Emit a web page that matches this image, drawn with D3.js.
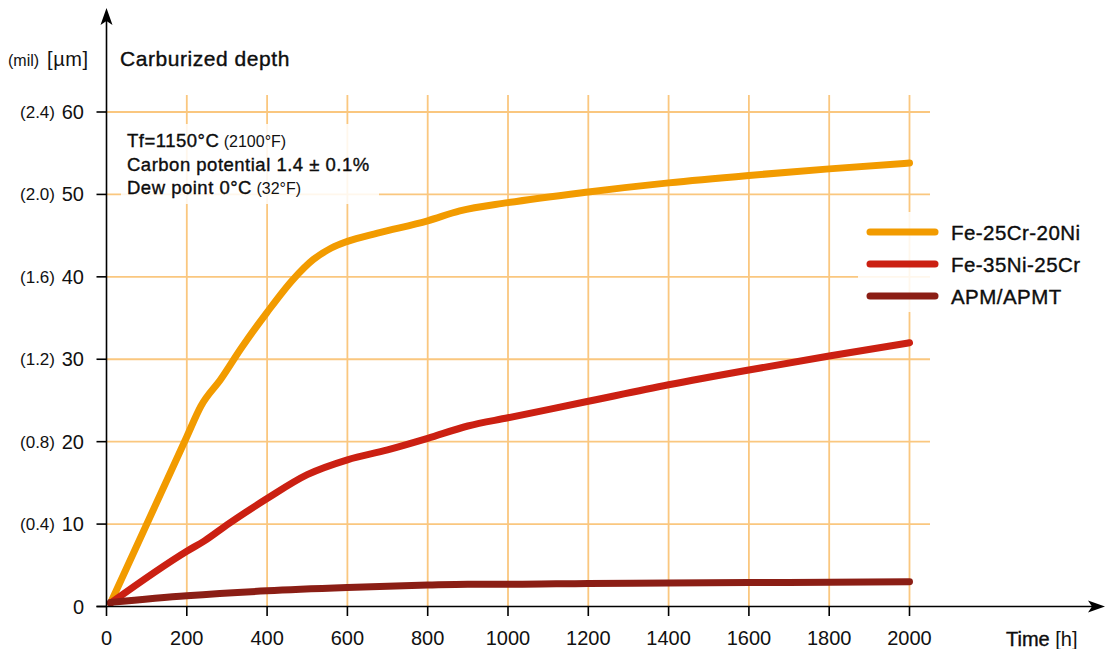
<!DOCTYPE html>
<html><head><meta charset="utf-8">
<script src="https://cdn.jsdelivr.net/npm/d3@7"></script>
<style>
body{margin:0;background:#fff;}
svg{display:block;font-family:"Liberation Sans",Arial,Helvetica,sans-serif;}
.med{stroke:currentColor;stroke-width:0.35px;}
</style></head>
<body><svg id="c" width="1114" height="649"></svg>
<script>
// ---- data ----
const xTicks = [0,200,400,600,800,1000,1200,1400,1600,1800,2000];
const yTicks = [0,10,20,30,40,50,60];
const yMilLabels = ["", "(0.4)", "(0.8)", "(1.2)", "(1.6)", "(2.0)", "(2.4)"];
const seriesNames = ["Fe-25Cr-20Ni","Fe-35Ni-25Cr","APM/APMT"];
const seriesColors = ["#F29B00","#CB2012","#8B1E15"];
const t1 = [10,200,235,285,335,400,465,515,560,600,675,800,880,1000,1200,1400,1600,1800,2000];
const v1 = [0.4,20.6,24.3,27.6,31.3,35.7,39.7,42.1,43.5,44.3,45.3,46.8,48.0,49.0,50.3,51.4,52.3,53.1,53.8];
const t2 = [10,200,245,300,400,500,600,700,800,900,1000,1200,1400,1600,1800,2000];
const v2 = [0.4,6.7,8.0,9.9,13.1,16.0,17.8,19.0,20.4,21.9,22.9,24.9,26.9,28.7,30.4,32.0];
const t3 = [10,200,400,600,800,900,1000,1200,1400,1600,1800,2000];
const v3 = [0.5,1.3,1.9,2.3,2.6,2.7,2.7,2.8,2.85,2.9,2.95,3.0];
const annotation = [
  ["Tf=1150°C", " (2100°F)"],
  ["Carbon potential 1.4 ± 0.1%", ""],
  ["Dew point 0°C", " (32°F)"]
];

const svg = d3.select("#c");
const x = d3.scaleLinear().domain([0,2000]).range([106.5,909.5]);
const y = d3.scaleLinear().domain([0,60]).range([606.5,112]);
const gridColor = "#FAC77F";

// grid
const g = svg.append("g");
g.selectAll("line.v").data(xTicks.slice(1)).join("line")
  .attr("x1",d=>x(d)).attr("x2",d=>x(d)).attr("y1",y(0)).attr("y2",95)
  .attr("stroke",gridColor).attr("stroke-width",1.8);
g.selectAll("line.h").data(yTicks.slice(1)).join("line")
  .attr("x1",x(0)).attr("x2",930).attr("y1",d=>y(d)).attr("y2",d=>y(d))
  .attr("stroke",gridColor).attr("stroke-width",1.8);

// white boxes behind annotation & legend
svg.append("rect").attr("x",121).attr("y",124).attr("width",258).attr("height",80).attr("fill","#fff").attr("opacity",0.85);
svg.append("rect").attr("x",858).attr("y",212).attr("width",250).attr("height",100).attr("fill","#fff").attr("opacity",0.85);

// lines
const series = [[t1,v1],[t2,v2],[t3,v3]];
const line = d3.line().x(d=>x(d[0])).y(d=>y(d[1])).curve(d3.curveMonotoneX);
series.forEach((s,i)=>{
  const pts = s[0].map((t,k)=>[t,s[1][k]]);
  svg.append("path").attr("d",line(pts)).attr("fill","none")
    .attr("stroke",seriesColors[i]).attr("stroke-width",7)
    .attr("stroke-linecap","round").attr("stroke-linejoin","round");
});

// axes
const ax = svg.append("g").attr("stroke","#000").attr("stroke-width",1.6);
ax.append("line").attr("x1",x(0)).attr("x2",x(0)).attr("y1",y(0)).attr("y2",20);
ax.append("line").attr("x1",96.5).attr("x2",1092).attr("y1",y(0)).attr("y2",y(0));
svg.append("path").attr("d",`M${x(0)},8 L${x(0)+6},25 L${x(0)},21 L${x(0)-6},25 Z`).attr("fill","#000");
svg.append("path").attr("d",`M1105,${y(0)} L1088,${y(0)-6} L1092,${y(0)} L1088,${y(0)+6} Z`).attr("fill","#000");
ax.selectAll("line.yt").data(yTicks).join("line")
  .attr("x1",96.5).attr("x2",x(0)).attr("y1",d=>y(d)).attr("y2",d=>y(d));
ax.selectAll("line.xt").data(xTicks).join("line")
  .attr("x1",d=>x(d)).attr("x2",d=>x(d)).attr("y1",y(0)).attr("y2",616);

// tick labels
svg.selectAll("text.xl").data(xTicks).join("text")
  .attr("x",d=>x(d)).attr("y",645).attr("text-anchor","middle")
  .attr("font-size",20).attr("fill","#111").text(d=>d);
svg.selectAll("text.yl").data(yTicks).join("text")
  .attr("x",84).attr("y",d=>y(d)+7).attr("text-anchor","end")
  .attr("font-size",20).attr("fill","#111").text(d=>d);
svg.selectAll("text.ym").data(yTicks).join("text")
  .attr("x",55).attr("y",d=>y(d)+6).attr("text-anchor","end")
  .attr("font-size",17).attr("fill","#111").text((d,i)=>yMilLabels[i]);

// axis titles
svg.append("text").attr("x",8).attr("y",66).attr("font-size",16).attr("fill","#111").text("(mil)");
svg.append("text").attr("x",47).attr("y",66).attr("font-size",20).attr("letter-spacing",0.6).attr("fill","#111").text("[µm]");
svg.append("text").attr("x",120).attr("y",66).attr("font-size",21).attr("letter-spacing",0.55).attr("fill","#111").attr("class","med").text("Carburized depth");
const tt = svg.append("text").attr("x",1006).attr("y",646).attr("font-size",20).attr("fill","#111");
tt.append("tspan").attr("class","med").text("Time");
tt.append("tspan").text(" [h]");

// annotation
annotation.forEach((a,i)=>{
  const t = svg.append("text").attr("x",127).attr("y",147+i*23.5).attr("fill","#111");
  t.append("tspan").attr("font-size",18.5).attr("letter-spacing",0.5).attr("class","med").text(a[0]);
  if(a[1]) t.append("tspan").attr("font-size",16).text(a[1]);
});

// legend
seriesNames.forEach((n,i)=>{
  const ly = 232+i*32;
  svg.append("line").attr("x1",870).attr("x2",935).attr("y1",ly).attr("y2",ly)
    .attr("stroke",seriesColors[i]).attr("stroke-width",7).attr("stroke-linecap","round");
  svg.append("text").attr("x",951).attr("y",ly+7.5).attr("font-size",20.5).attr("letter-spacing",0.45).attr("fill","#111").attr("class","med").text(n);
});
</script></body></html>
